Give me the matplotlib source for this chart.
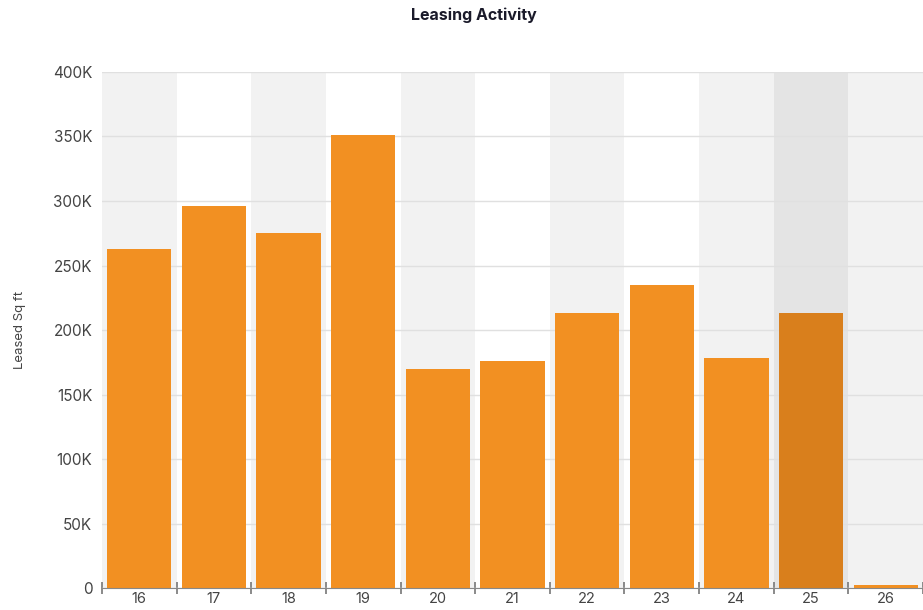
import numpy as np
import matplotlib.pyplot as plt
from matplotlib.ticker import FuncFormatter

categories = ['16', '17', '18', '19', '20', '21', '22', '23', '24', '25', '26']
leased = [263000, 296000, 275000, 351000, 170000, 176000, 213000, 235000, 178000, 213000, 2000]
hover_idx = 9

plt.rcParams['font.family'] = ['Inter', 'DejaVu Sans']

fig = plt.figure(figsize=(9.23, 6.1), dpi=100)
ax = fig.add_axes([0.1105, 0.036, 0.8895, 0.846])

x = np.arange(len(categories))

# alternating background bands
for i in x:
    if i == hover_idx:
        ax.axvspan(i - 0.5, i + 0.5, color='#e4e4e4', zorder=0, lw=0)
    elif i % 2 == 0:
        ax.axvspan(i - 0.5, i + 0.5, color='#f2f2f2', zorder=0, lw=0)

colors = ['#d97f1c' if i == hover_idx else '#f29022' for i in x]
ax.bar(x, leased, width=0.86, color=colors, zorder=3)

ax.set_xlim(-0.5, len(categories) - 0.5)
ax.set_ylim(0, 400000)
ax.set_yticks(np.arange(0, 400001, 50000))
ax.yaxis.set_major_formatter(FuncFormatter(lambda v, p: '0' if v == 0 else f'{int(v / 1000)}K'))
ax.grid(axis='y', color='#e0e0e0', lw=1, zorder=1)

ax.set_xticks(x)
ax.set_xticklabels(categories)
ax.set_xticks(np.arange(-0.5, len(categories) - 0.4, 1), minor=True)
ax.tick_params(axis='x', which='major', length=0, pad=3, labelsize=10.5, labelcolor='#444444')
ax.tick_params(axis='x', which='minor', length=9, direction='inout', color='#777777', width=1.2)
ax.tick_params(axis='y', length=0, pad=7, labelsize=11, labelcolor='#444444')

for s in ['top', 'right', 'left']:
    ax.spines[s].set_visible(False)
ax.spines['bottom'].set_color('#888888')
ax.spines['bottom'].set_zorder(4)

ax.set_ylabel('Leased Sq ft', fontsize=9.5, color='#444444')
ax.yaxis.set_label_coords(-0.093, 0.5)
fig.text(0.513, 0.975, 'Leasing Activity', ha='center', va='center',
         fontsize=11.5, fontweight='bold', color='#1a1a2a')

fig.savefig('out.png', dpi=100)
